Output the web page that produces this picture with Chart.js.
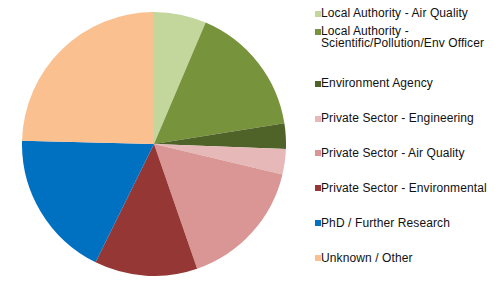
<!DOCTYPE html>
<html>
<head>
<meta charset="utf-8">
<script src="https://cdn.jsdelivr.net/npm/chart.js@4"></script>
<style>
  html, body { margin:0; padding:0; background:#fff; }
  #wrap { position:relative; width:500px; height:284px; overflow:hidden; background:#fff; }
  #pie { position:absolute; left:22px; top:11.5px; width:264px; height:264px; }
  #legend { position:absolute; left:0; top:0; margin:0; padding:0; list-style:none;
            font-family:"Liberation Sans", Arial, sans-serif; font-size:12px; color:#111; }
  #legend li { position:absolute; left:315px; white-space:pre; line-height:11.4px; }
  #legend .sw { position:absolute; left:0; top:2.5px; width:6px; height:6px; }
  #legend .tx { position:absolute; left:6px; top:0; letter-spacing:0.1px; }
</style>
</head>
<body>
<div id="wrap">
  <div id="pie"><canvas id="c"></canvas></div>
  <ul id="legend"></ul>
</div>
<script>
const categories = [
  "Local Authority - Air Quality",
  "Local Authority -\nScientific/Pollution/Env Officer",
  "Environment Agency",
  "Private Sector - Engineering",
  "Private Sector - Air Quality",
  "Private Sector - Environmental",
  "PhD / Further Research",
  "Unknown / Other"
];
const shares = [6.4, 16.1, 3.1, 3.1, 16.0, 12.6, 18.1, 24.6];
const colors = ["#c3d69b", "#77933c", "#4f6228", "#e6b9b8", "#d99694", "#953735", "#0070c0", "#fac090"];

new Chart(document.getElementById("c"), {
  type: "pie",
  data: {
    labels: categories,
    datasets: [{ data: shares, backgroundColor: colors, borderWidth: 0, hoverOffset: 0 }]
  },
  options: {
    responsive: true,
    maintainAspectRatio: false,
    animation: false,
    layout: { padding: 0 },
    plugins: { legend: { display: false }, tooltip: { enabled: false } }
  }
});

// legend
const ul = document.getElementById("legend");
const firstCenter = 14, step = 34.9, lh = 11.4;
categories.forEach((lab, i) => {
  const lines = lab.split("\n").length;
  const blockCenter = firstCenter + i * step - (lines - 1) * lh;
  const top = blockCenter - lines * lh / 2;
  const li = document.createElement("li");
  li.style.top = top + "px";
  const sw = document.createElement("span");
  sw.className = "sw";
  sw.style.background = colors[i];
  const tx = document.createElement("span");
  tx.className = "tx";
  tx.textContent = lab;
  li.appendChild(sw);
  li.appendChild(tx);
  ul.appendChild(li);
});
</script>
</body>
</html>
